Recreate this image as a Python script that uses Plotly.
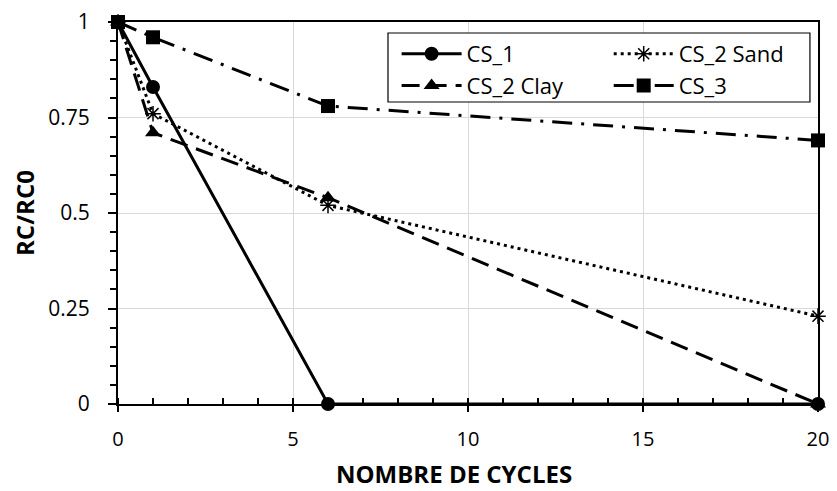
import plotly.graph_objects as go

cycles = [0, 1, 6, 20]
cs1 = [1.0, 0.83, 0.0, 0.0]
cs2_sand = [1.0, 0.76, 0.52, 0.23]
cs2_clay = [1.0, 0.71, 0.54, 0.0]
cs3 = [1.0, 0.96, 0.78, 0.69]

x_ticks = [0, 5, 10, 15, 20]
y_ticks = [0, 0.25, 0.5, 0.75, 1]
y_tick_labels = ["0", "0.25", "0.5", "0.75", "1"]

FONT = "Open Sans"

fig = go.Figure()
fig.add_trace(go.Scatter(
    x=cycles, y=cs1, name="CS_1", mode="lines+markers", legend="legend",
    line=dict(color="black", width=3),
    marker=dict(symbol="circle", size=14, color="black"),
    cliponaxis=False))
fig.add_trace(go.Scatter(
    x=cycles, y=cs2_sand, name="CS_2 Sand", mode="lines+markers", legend="legend2",
    line=dict(color="black", width=3, dash="3px,4px"),
    marker=dict(symbol="asterisk-open", size=13, color="black",
                line=dict(color="black", width=1.5)),
    cliponaxis=False))
fig.add_trace(go.Scatter(
    x=cycles, y=cs2_clay, name="CS_2 Clay", mode="lines+markers", legend="legend",
    line=dict(color="black", width=3, dash="18px,9px"),
    marker=dict(symbol="triangle-up", size=14, color="black"),
    cliponaxis=False))
fig.add_trace(go.Scatter(
    x=cycles, y=cs3, name="CS_3", mode="lines+markers", legend="legend2",
    line=dict(color="black", width=3, dash="20px,9px,3px,9px"),
    marker=dict(symbol="square", size=14, color="black"),
    cliponaxis=False))

legend_common = dict(
    orientation="v", y=0.9712, xanchor="left", yanchor="top",
    bgcolor="rgba(0,0,0,0)", borderwidth=0,
    font=dict(family=FONT, size=22, color="black"),
    tracegroupgap=0, itemwidth=60, traceorder="normal",
)

fig.update_layout(
    width=837, height=491,
    margin=dict(l=110, r=27, t=14, b=95, autoexpand=False),
    paper_bgcolor="white", plot_bgcolor="white",
    font=dict(family=FONT, size=21, color="black"),
    showlegend=True,
    legend=dict(x=0.398, **legend_common),
    legend2=dict(x=0.701, **legend_common),
    shapes=[dict(type="rect", xref="paper", yref="paper",
                 x0=0.3857, x1=0.9885, y0=0.7906, y1=0.9712,
                 line=dict(color="black", width=1.2),
                 fillcolor="white", layer="above")],
    xaxis=dict(
        range=[0, 20], tickvals=x_ticks, ticktext=[str(v) for v in x_ticks],
        showgrid=True, gridcolor="#d9d9d9", gridwidth=1,
        showline=True, linecolor="black", linewidth=2, mirror=True,
        ticks="outside", ticklen=6, tickwidth=1.5, tickcolor="black",
        minor=dict(dtick=1, ticks="inside", ticklen=6, tickwidth=1.5,
                   tickcolor="black", showgrid=False),
        ticklabelstandoff=10, ticklabeloverflow="allow",
        zeroline=False,
        tickfont=dict(family=FONT, size=20, color="black"),
    ),
    yaxis=dict(
        range=[0, 1], tickvals=y_ticks, ticktext=y_tick_labels,
        showgrid=True, gridcolor="#d9d9d9", gridwidth=1,
        showline=True, linecolor="black", linewidth=2, mirror=True,
        ticks="outside", ticklen=8, tickwidth=1.5, tickcolor="black",
        minor=dict(dtick=0.05, ticks="outside", ticklen=6, tickwidth=1.5,
                   tickcolor="black", showgrid=False),
        ticklabelstandoff=14, ticklabeloverflow="allow",
        zeroline=False,
        tickfont=dict(family=FONT, size=21, color="black"),
    ),
    annotations=[
        dict(text="<b>NOMBRE DE CYCLES</b>", xref="paper", yref="paper",
             x=0.48, y=-0.183, xanchor="center", yanchor="middle",
             showarrow=False, font=dict(family=FONT, size=24, color="black")),
        dict(text="<b>RC/RC0</b>", xref="paper", yref="paper",
             x=-0.1343, y=0.5, xanchor="center", yanchor="middle",
             textangle=-90, showarrow=False,
             font=dict(family=FONT, size=24, color="black")),
    ],
)

fig.write_html("out.html")
